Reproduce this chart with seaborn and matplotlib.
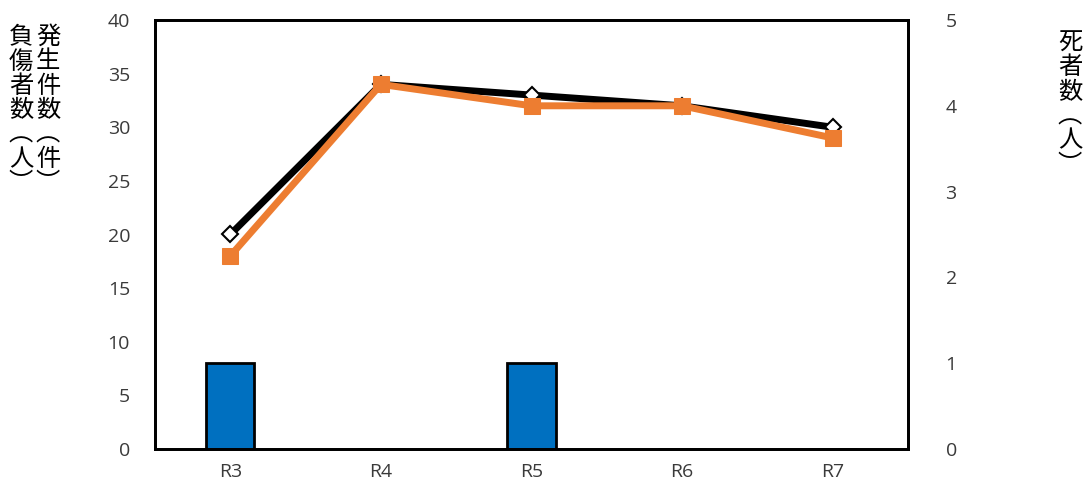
import matplotlib
matplotlib.use("Agg")
import matplotlib.pyplot as plt
import seaborn as sns
import numpy as np

sns.set_theme(style="white")
plt.rcParams['font.family'] = ['Noto Sans CJK JP', 'DejaVu Sans']

# Yearly figures
years = ["R3", "R4", "R5", "R6", "R7"]
incidents = [20, 34, 33, 32, 30]   # 発生件数（件）
injured = [18, 34, 32, 32, 29]     # 負傷者数（人）
deaths = [1, 0, 1, 0, 0]           # 死者数（人）

fig = plt.figure(figsize=(10.89, 4.92), dpi=100)
ax1 = fig.add_axes([155 / 1089, 43 / 492, 753 / 1089, 429 / 492])
ax2 = ax1.twinx()

# deaths as bars on the secondary axis
sns.barplot(x=years, y=deaths, ax=ax2, color="#0070C0", width=0.32,
            edgecolor="black", linewidth=2, saturation=1)

# counts as lines on the primary axis
xs = np.arange(len(years))
sns.lineplot(x=xs, y=incidents, ax=ax1, color="black", linewidth=5,
             marker="D", markersize=8, markerfacecolor="white",
             markeredgecolor="black", markeredgewidth=1.5)
sns.lineplot(x=xs, y=injured, ax=ax1, color="#ED7D31", linewidth=5,
             marker="s", markersize=12, markerfacecolor="#ED7D31",
             markeredgecolor="#ED7D31")

ax1.set_zorder(ax2.get_zorder() + 1)
ax1.patch.set_visible(False)

ax1.set_xlim(-0.5, 4.5)
ax1.set_ylim(0, 40)
ax2.set_ylim(0, 5)
ax1.set_yticks(range(0, 41, 5))
ax2.set_yticks(range(0, 6))
ax1.set_xticks(xs)
ax1.set_xticklabels(years)
ax2.set_xlabel("")
ax1.set_xlabel("")
ax2.set_ylabel("")

tick_color = "#3a3a3a"
for ax in (ax1, ax2):
    ax.tick_params(axis="both", length=0, labelsize=14, colors=tick_color)
    for s in ax.spines.values():
        s.set_color("black")
        s.set_linewidth(2)
    for lab in ax.get_xticklabels() + ax.get_yticklabels():
        lab.set_fontfamily(["Open Sans", "DejaVu Sans"])
ax1.tick_params(axis="y", pad=18)
ax2.tick_params(axis="y", pad=27)
ax1.tick_params(axis="x", pad=10)

# vertical axis titles
def vlabel(x, y, text):
    fig.text(x, y, "\n".join(text), ha="center", va="top", fontsize=17.5,
             linespacing=0.92, color="black")

vlabel(48 / 1089, 1 - 24 / 492, "発生件数︵件︶")
vlabel(21 / 1089, 1 - 24 / 492, "負傷者数︵人︶")
vlabel(1070 / 1089, 1 - 30 / 492, "死者数︵人︶")

fig.savefig("out.png", dpi=100)
